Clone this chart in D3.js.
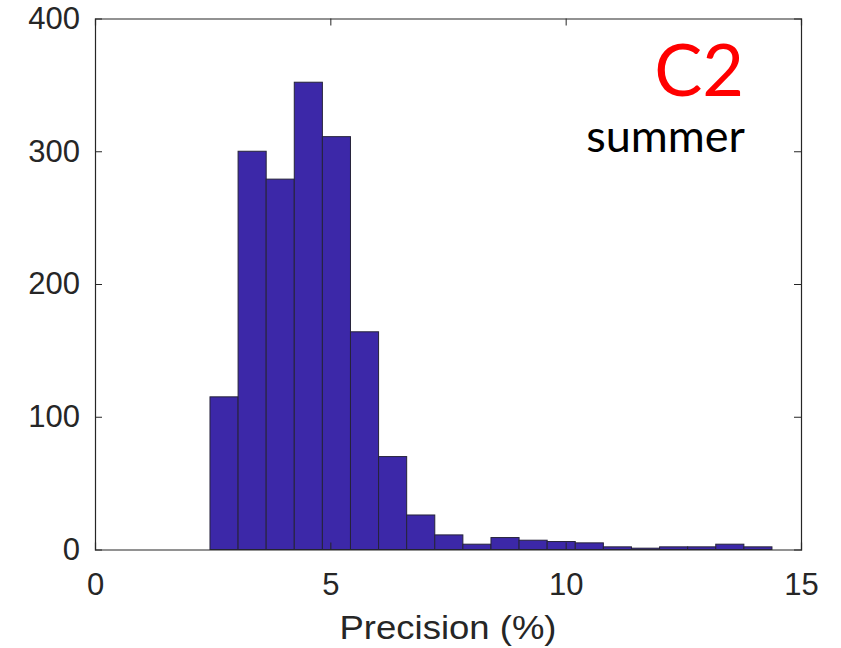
<!DOCTYPE html>
<html>
<head>
<meta charset="utf-8">
<script src="https://cdn.jsdelivr.net/npm/d3@7"></script>
<style>
  html, body { margin: 0; padding: 0; background: #fff; }
  svg { display: block; }
</style>
</head>
<body>
<svg id="chart" width="841" height="648"></svg>
<script>
// ---- data ----
const binStart = 2.443;          // left edge of first bin (%)
const binWidth = 0.597;          // bin width (%)
const counts = [115, 300, 279, 352, 311, 164, 70, 26, 11, 4, 9, 7, 6, 5, 2, 1, 2, 2, 4, 2];
const xTicks = [0, 5, 10, 15];
const yTicks = [0, 100, 200, 300, 400];
const xLabel = "Precision (%)";
const tagMain = "C2";
const tagSub = "summer";

// ---- layout ----
const margin = { left: 95, right: 841 - 801, top: 18.5, bottom: 648 - 549.5 };
const W = 841, H = 648;
const svg = d3.select("#chart");

const x = d3.scaleLinear().domain([0, 15]).range([margin.left, W - margin.right]);
const y = d3.scaleLinear().domain([0, 400]).range([H - margin.bottom, margin.top]);

const bins = counts.map((c, i) => ({ x0: binStart + i * binWidth, x1: binStart + (i + 1) * binWidth, n: c }));

const axisColor = "#262626";

// bars
svg.append("g").selectAll("rect").data(bins).join("rect")
  .attr("x", d => x(d.x0))
  .attr("width", d => x(d.x1) - x(d.x0))
  .attr("y", d => y(d.n))
  .attr("height", d => y(0) - y(d.n))
  .attr("fill", "#3c28a8")
  .attr("stroke", "#26233a")
  .attr("stroke-width", 1);

const tickLen = 7;
const fontTick = "Liberation Sans, Arial, sans-serif";

const xAxisB = svg.append("g").attr("transform", `translate(0,${y(0)})`)
  .call(d3.axisBottom(x).tickValues(xTicks).tickSize(-tickLen).tickPadding(tickLen + 16).tickFormat(d3.format("d")));
const xAxisT = svg.append("g").attr("transform", `translate(0,${y(400)})`)
  .call(d3.axisTop(x).tickValues(xTicks).tickSize(-tickLen).tickFormat(""));
const yAxisL = svg.append("g").attr("transform", `translate(${x(0)},0)`)
  .call(d3.axisLeft(y).tickValues(yTicks).tickSize(-tickLen).tickPadding(tickLen + 8).tickFormat(d3.format("d")));
const yAxisR = svg.append("g").attr("transform", `translate(${x(15)},0)`)
  .call(d3.axisRight(y).tickValues(yTicks).tickSize(-tickLen).tickFormat(""));

[xAxisB, xAxisT, yAxisL, yAxisR].forEach(g => {
  g.select(".domain").attr("stroke", axisColor).attr("stroke-width", 1.2);
  g.selectAll(".tick line").attr("stroke", axisColor).attr("stroke-width", 1);
  g.selectAll(".tick text").attr("fill", axisColor).style("font-family", fontTick).style("font-size", "31px");
});
[xAxisB, xAxisT].forEach(g => g.selectAll(".tick line").filter(d => d === 0 || d === 15).remove());
[yAxisL, yAxisR].forEach(g => g.selectAll(".tick line").filter(d => d === 0 || d === 400).remove());
xAxisB.selectAll(".tick text").attr("dy", "0.71em");

// x label
svg.append("text")
  .attr("x", (x(0) + x(15)) / 2)
  .attr("y", 639)
  .attr("text-anchor", "middle")
  .attr("fill", axisColor)
  .style("font-family", fontTick)
  .style("font-size", "33px")
  .attr("textLength", 217)
  .attr("lengthAdjust", "spacingAndGlyphs")
  .text(xLabel);

// annotations
svg.append("text")
  .attr("x", 744).attr("y", 96)
  .attr("text-anchor", "end")
  .attr("fill", "#ff0000")
  .style("font-family", "Lato, 'Open Sans', sans-serif")
  .style("font-size", "72px")
  .text(tagMain);
svg.append("text")
  .attr("x", 745).attr("y", 152)
  .attr("text-anchor", "end")
  .attr("fill", "#000")
  .style("font-family", "Lato, 'Open Sans', sans-serif")
  .style("font-size", "45px")
  .text(tagSub);
</script>
</body>
</html>
